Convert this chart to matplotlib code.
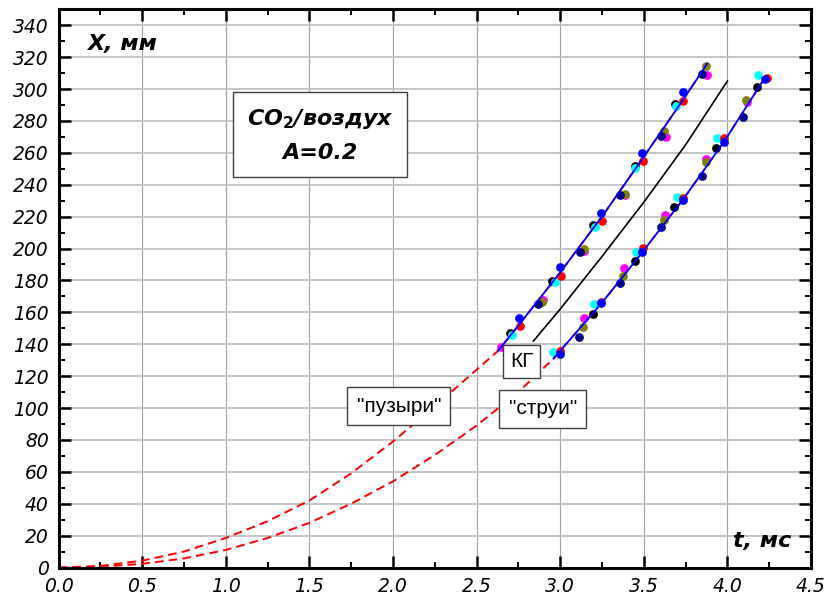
# X(t) for CO2/air, A=0.2 : bubbles and jets
import numpy as np
import matplotlib
matplotlib.use("Agg")
import matplotlib.pyplot as plt
from matplotlib.ticker import MultipleLocator

plt.rcParams['font.family'] = ['DejaVu Sans']
plt.rcParams['mathtext.default'] = 'bf'

# "пузыри" (bubbles), points of each run
b_black_t = [2.70, 2.95, 3.195, 3.445, 3.685]
b_black_x = [147.3, 179.7, 214.9, 251.9, 290.8]
b_cyan_t = [2.71, 2.97, 3.21, 3.45, 3.695]
b_cyan_x = [146.0, 179.3, 213.2, 250.5, 289.1]
b_red_t = [2.76, 3.005, 3.25, 3.495, 3.737]
b_red_x = [151.4, 182.9, 217.4, 255.0, 292.3]
b_blue_t = [2.755, 3.0, 3.247, 3.49, 3.735]
b_blue_x = [156.2, 188.3, 222.6, 259.9, 297.9]
b_navy_t = [2.87, 3.117, 3.36, 3.605, 3.847]
b_navy_x = [165.3, 198.0, 233.7, 270.7, 309.7]
b_olive_t = [2.89, 3.14, 3.385, 3.62, 3.87]
b_olive_x = [166.7, 199.6, 234.3, 273.5, 314.7]
b_magenta_t = [2.645, 2.90, 3.145, 3.39, 3.635, 3.876]
b_magenta_x = [138.4, 167.8, 198.5, 233.3, 270.0, 309.0]

# "струи" (jets)
j_black_t = [3.195, 3.445, 3.68, 3.93, 4.176]
j_black_x = [158.8, 192.3, 226.0, 263.0, 301.0]
j_cyan_t = [2.96, 3.20, 3.455, 3.697, 3.94, 4.186]
j_cyan_x = [135.0, 165.3, 197.7, 232.6, 269.3, 309.0]
j_red_t = [3.0, 3.247, 3.495, 3.737, 3.98, 4.235]
j_red_x = [136.0, 166.5, 200.2, 231.5, 269.3, 307.0]
j_blue_t = [3.0, 3.247, 3.49, 3.737, 3.98, 4.226]
j_blue_x = [133.7, 166.1, 198.1, 230.6, 266.8, 306.3]
j_navy_t = [3.115, 3.36, 3.605, 3.846, 4.094]
j_navy_x = [144.8, 178.3, 213.4, 245.2, 282.5]
j_olive_t = [3.135, 3.375, 3.62, 3.87, 4.11]
j_olive_x = [150.7, 182.9, 217.6, 254.0, 292.9]
j_magenta_t = [3.14, 3.383, 3.625, 3.874, 4.12]
j_magenta_x = [156.7, 187.7, 221.2, 256.3, 291.9]

# fit lines through the data
fit_b_t = [2.63, 2.76, 3.0, 3.25, 3.49, 3.74, 3.88]
fit_b_x = [136, 153, 185, 220, 256, 294, 316]
fit_j_t = [2.96, 3.25, 3.49, 3.74, 3.98, 4.23]
fit_j_x = [131, 166, 197.5, 231.5, 267, 308]

# КГ curve
kg_t = [2.84, 3.0, 3.25, 3.5, 3.75, 4.0]
kg_x = [142, 162, 195, 229, 265, 305]

# dashed extrapolation from the origin
ext_b_t = [0, 0.25, 0.5, 0.75, 1.0, 1.25, 1.5, 1.75, 2.0, 2.25, 2.5, 2.63,
           2.76, 3.0, 3.25, 3.49, 3.74, 3.88]
ext_b_x = [0, 1.0, 4.3, 10, 18.5, 29, 42, 59, 79, 101, 124, 136,
           153, 185, 220, 256, 294, 316]
ext_j_t = [0, 0.25, 0.5, 0.75, 1.0, 1.25, 1.5, 1.75, 2.0, 2.25, 2.5, 2.75, 2.96,
           3.25, 3.49, 3.74, 3.98, 4.23]
ext_j_x = [0, 0.5, 2.3, 5.7, 11, 18.5, 28, 40, 54, 70.5, 89, 110, 131,
           166, 197.5, 231.5, 267, 308]

fig = plt.figure(figsize=(8.31, 6.01), dpi=100)
ax = fig.add_axes([0.0704, 0.0557, 0.9055, 0.9288])

ms = 6.3
dash = (0, (4.5, 2.6))
ax.plot(ext_b_t, ext_b_x, color='red', lw=1.4, ls=dash, zorder=2)
ax.plot(ext_j_t, ext_j_x, color='red', lw=1.4, ls=dash, zorder=2)

series = [
    (b_magenta_t, b_magenta_x, 'magenta'), (b_olive_t, b_olive_x, 'olive'),
    (b_navy_t, b_navy_x, 'navy'), (b_black_t, b_black_x, 'black'),
    (b_cyan_t, b_cyan_x, 'cyan'), (b_red_t, b_red_x, 'red'),
    (b_blue_t, b_blue_x, 'blue'),
    (j_magenta_t, j_magenta_x, 'magenta'), (j_olive_t, j_olive_x, 'olive'),
    (j_navy_t, j_navy_x, 'navy'), (j_black_t, j_black_x, 'black'),
    (j_cyan_t, j_cyan_x, 'cyan'), (j_red_t, j_red_x, 'red'),
    (j_blue_t, j_blue_x, 'blue'),
]
for t, x, c in series:
    ax.plot(t, x, 'o', color=c, ms=ms, mew=0, zorder=3)

ax.plot(fit_b_t, fit_b_x, color='blue', lw=1.3, zorder=4)
ax.plot(fit_j_t, fit_j_x, color='blue', lw=1.3, zorder=4)
ax.plot(kg_t, kg_x, color='black', lw=1.2, zorder=4)

ax.set_xlim(0, 4.5)
ax.set_ylim(0, 350)
ax.xaxis.set_major_locator(MultipleLocator(0.5))
ax.xaxis.set_minor_locator(MultipleLocator(0.25))
ax.yaxis.set_major_locator(MultipleLocator(20))
ax.yaxis.set_minor_locator(MultipleLocator(10))
ax.set_xticks(np.arange(0, 4.51, 0.5))
ax.set_xticklabels(['%.1f' % v for v in np.arange(0, 4.51, 0.5)])
ax.set_yticks(np.arange(0, 341, 20))

ax.tick_params(which='both', direction='in', top=True, right=True)
ax.tick_params(which='major', length=8.5, width=1.8, labelsize=13.5, pad=7)
ax.tick_params(which='minor', length=4.3, width=1.4)
for lab in ax.get_xticklabels() + ax.get_yticklabels():
    lab.set_fontstyle('italic')
for s in ax.spines.values():
    s.set_linewidth(2.2)

ax.grid(axis='x', which='major', color='#a0a0a0', lw=0.8, zorder=0)
ax.grid(axis='y', which='major', color='#c0c0c0', lw=1.3, zorder=0)
ax.set_axisbelow(True)

ax.text(0.0379, 0.927, 'X, мм', transform=ax.transAxes, fontsize=16,
        fontweight='bold', fontstyle='italic', va='baseline', ha='left')
ax.text(0.8967, 0.0367, 't, мс', transform=ax.transAxes, fontsize=16,
        fontweight='bold', fontstyle='italic', va='baseline', ha='left')

ax.text(1.564, 271, 'CO$_2$/воздух\nA=0.2', fontsize=16, fontweight='bold',
        fontstyle='italic', ha='center', va='center', linespacing=1.75,
        multialignment='center', zorder=6,
        bbox=dict(boxstyle='square,pad=0.6', fc='white', ec='#404040', lw=1))

lbl_font = dict(family=['Liberation Sans', 'DejaVu Sans'], fontsize=15)
ax.text(2.77, 129, 'КГ', ha='center', va='center', zorder=6, **lbl_font,
        bbox=dict(boxstyle='square,pad=0.33', fc='white', ec='#404040', lw=1))
ax.text(2.897, 99.5, '"струи"', ha='center', va='center', zorder=6, **lbl_font,
        bbox=dict(boxstyle='square,pad=0.45', fc='white', ec='#404040', lw=1))
ax.text(2.035, 101.2, '"пузыри"', ha='center', va='center', zorder=6, **lbl_font,
        bbox=dict(boxstyle='square,pad=0.45', fc='white', ec='#404040', lw=1))

fig.savefig('out.png', dpi=100)
